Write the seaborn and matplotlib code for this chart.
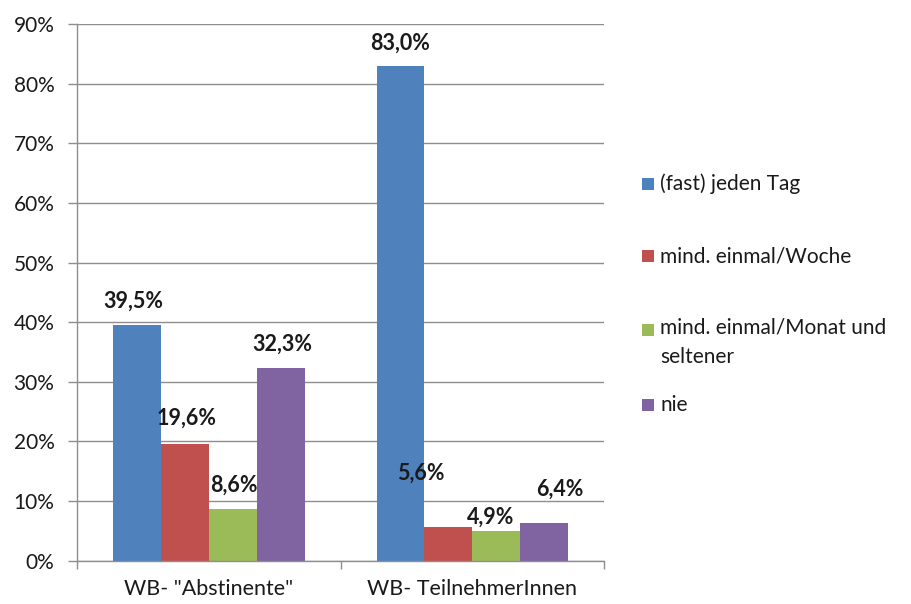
import matplotlib
matplotlib.use("Agg")
import matplotlib.pyplot as plt
from matplotlib.patches import Rectangle
from matplotlib.ticker import FixedLocator, PercentFormatter
import pandas as pd
import seaborn as sns

# Survey groups, answer categories and shares (in %)
groups = ['WB- "Abstinente"', "WB- TeilnehmerInnen"]
answers = ["(fast) jeden Tag", "mind. einmal/Woche",
           "mind. einmal/Monat und\nseltener", "nie"]
share_abstinent = [39.5, 19.6, 8.6, 32.3]
share_participants = [83.0, 5.6, 4.9, 6.4]
colors = ["#4F81BD", "#C0504D", "#9BBB59", "#8064A2"]

df = pd.DataFrame({
    "Gruppe": [groups[0]] * 4 + [groups[1]] * 4,
    "Antwort": answers * 2,
    "Anteil": share_abstinent + share_participants,
})

sns.set_theme(style="white")
plt.rcParams["font.family"] = ["Lato", "DejaVu Sans"]

fig = plt.figure(figsize=(9.12, 6.04), dpi=100)
ax = fig.add_axes([77.3 / 912, (604 - 560.7) / 604,
                   (604 - 77.3) / 912, (560.7 - 24) / 604])

sns.barplot(data=df, x="Gruppe", y="Anteil", hue="Antwort",
            hue_order=answers, order=groups, palette=colors,
            width=0.727, gap=0, saturation=1, ax=ax,
            legend=False, errorbar=None, edgecolor="none", linewidth=0)

grid_c = "#8E8E8E"
text_c = "#1a1a1a"
ax.set_xlim(-0.5, 1.5)
ax.set_ylim(0, 90)
ax.set_yticks(range(0, 91, 10))
ax.yaxis.set_major_formatter(PercentFormatter(decimals=0))
ax.yaxis.grid(True, color=grid_c, linewidth=1)
ax.set_axisbelow(True)
ax.set_xlabel("")
ax.set_ylabel("")
for side in ("top", "right"):
    ax.spines[side].set_visible(False)
for side in ("left", "bottom"):
    ax.spines[side].set_color(grid_c)
    ax.spines[side].set_linewidth(1)

ax.tick_params(axis="y", length=6.5, width=1, color=grid_c, pad=10,
               labelsize=15, labelcolor=text_c, left=True)
ax.tick_params(axis="x", which="major", length=0, pad=13,
               labelsize=15.5, labelcolor=text_c)
ax.xaxis.set_minor_locator(FixedLocator([-0.5, 0.5, 1.5]))
ax.tick_params(axis="x", which="minor", length=5.5, width=1,
               color=grid_c, bottom=True)

# Value labels above each bar (offsets in pixels)
label_offsets = [(-4, 24), (2, 26), (1, 24), (2, 24),
                 (0, 23), (-28, 54), (-6, 14), (16, 33)]
bars = [list(cont) for cont in ax.containers]
values = [share_abstinent, share_participants]
for gi in range(2):
    for ai in range(4):
        bar = bars[ai][gi]
        v = values[gi][ai]
        dx, dy = label_offsets[gi * 4 + ai]
        ax.annotate(f"{v:.1f}%".replace(".", ","),
                    (bar.get_x() + bar.get_width() / 2, v),
                    xytext=(dx, dy), textcoords="offset pixels",
                    ha="center", va="center", fontsize=15.5,
                    fontweight="bold", color=text_c,
                    annotation_clip=False)

# Legend on the right
legend_rows = [184, 256, 330, 405]
for ans, col, yc in zip(answers, colors, legend_rows):
    fig.patches.append(Rectangle((642 / 912, (604 - yc - 6) / 604),
                                 12 / 912, 12 / 604,
                                 transform=fig.transFigure,
                                 facecolor=col, edgecolor="none"))
    if "\n" in ans:
        fig.text(660 / 912, (604 - yc + 12) / 604, ans, fontsize=15,
                 color=text_c, ha="left", va="top", linespacing=1.55)
    else:
        fig.text(660 / 912, (604 - yc) / 604, ans, fontsize=15,
                 color=text_c, ha="left", va="center")

fig.savefig("out.png", dpi=100, facecolor="white")
